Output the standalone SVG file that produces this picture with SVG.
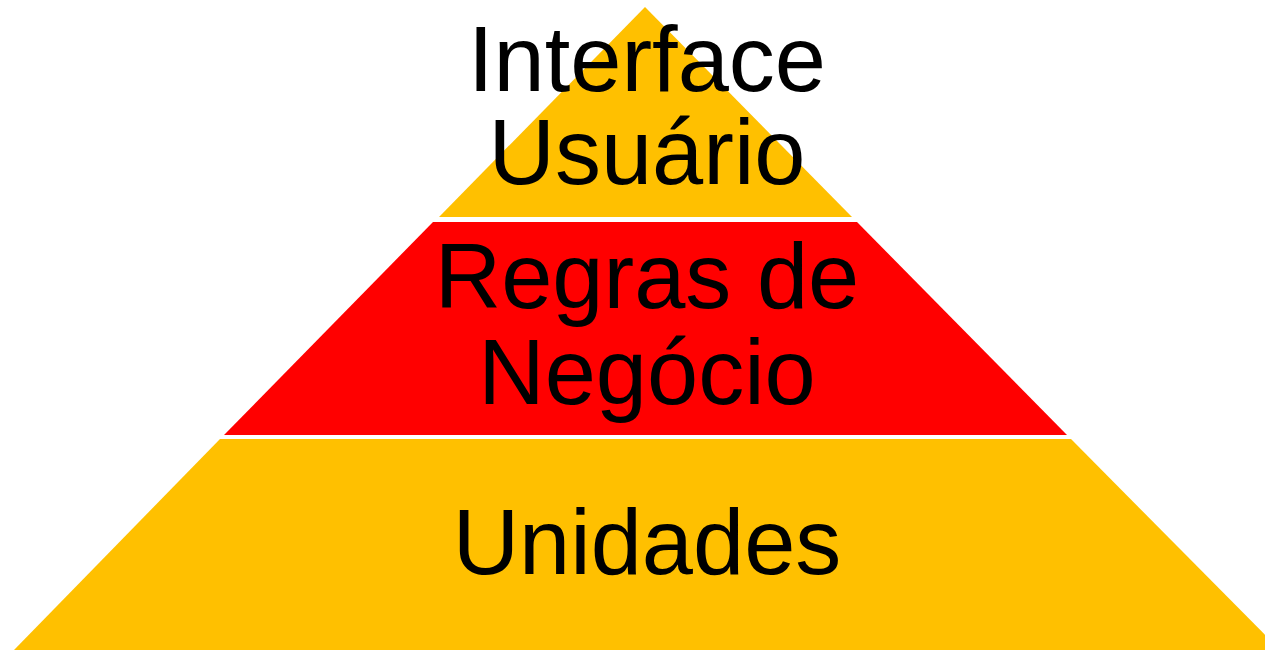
<svg xmlns="http://www.w3.org/2000/svg" width="1265" height="650" viewBox="0 0 1265 650">
<style>
.y{fill:#FFC000}
.r{fill:#FF0000}
.t{font-family:"Liberation Sans",Arial,sans-serif;font-size:92px;fill:#000;text-anchor:middle}
</style>
<rect width="1265" height="650" fill="#fff"/>
<g id="top">
<polygon class="y" points="645,7 852,217 439,217"/>
<text class="t" x="647" y="91">Interface</text>
<text class="t" x="647" y="184">Usuário</text>
</g>
<g id="middle">
<polygon class="r" points="433,222 857,222 1067,435 224,435"/>
<text class="t" x="647" y="308">Regras de</text>
<text class="t" x="647" y="404">Negócio</text>
</g>
<g id="bottom">
<polygon class="y" points="220,439 1071,439 1280,650 14,650"/>
<text class="t" x="647" y="574">Unidades</text>
</g>
<g id="connectors"/>
</svg>
